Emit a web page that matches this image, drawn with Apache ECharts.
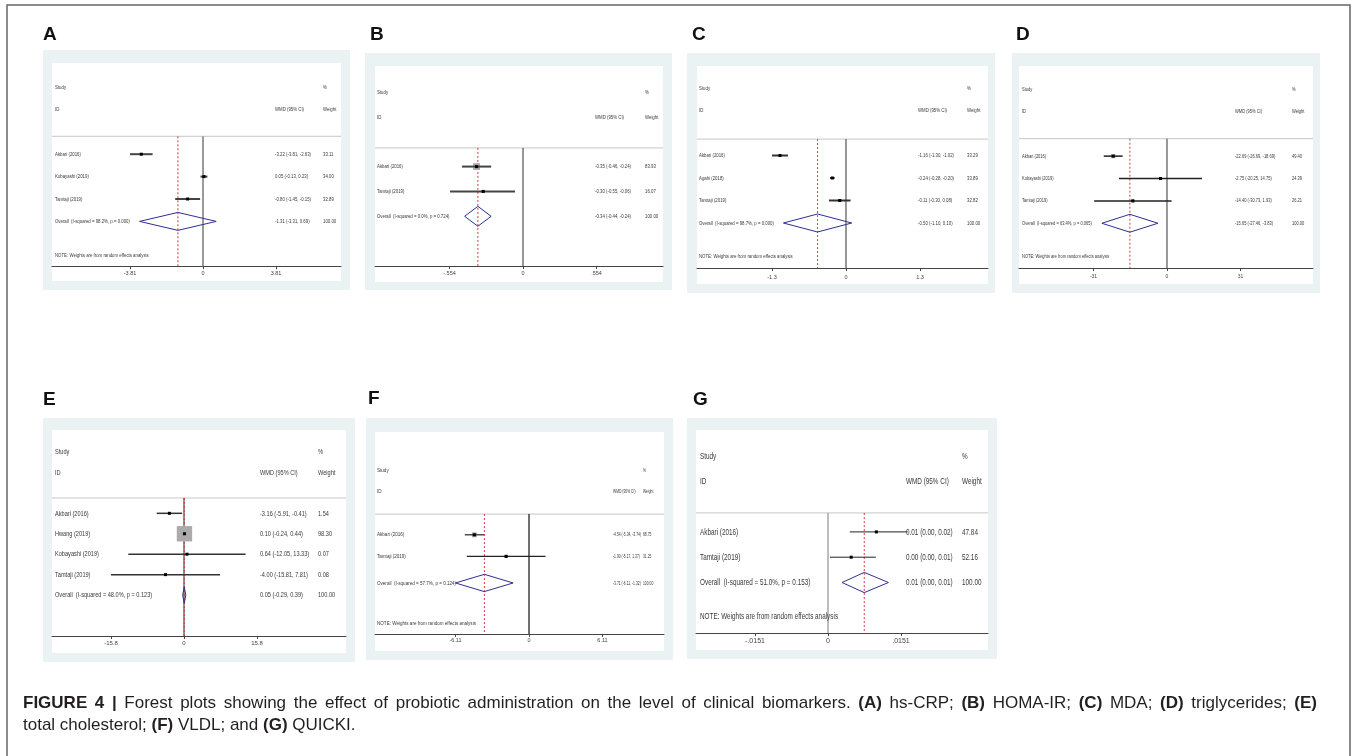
<!DOCTYPE html>
<html>
<head>
<meta charset="utf-8">
<script src="https://cdn.jsdelivr.net/npm/echarts@6/dist/echarts.min.js"></script>
<style>
html, body { margin: 0; padding: 0; background: #fff; }
#main { width: 1357px; height: 756px; }
</style>
</head>
<body>
<div id="main"></div>
<script>
// A: hs-CRP
var studyA = ['Akbari (2016)', 'Kobayashi (2019)', 'Tamtaji (2019)'];
var wmdA = [-3.22, 0.05, -0.80];
var lowA = [-3.81, -0.13, -1.45];
var highA = [-2.63, 0.23, -0.15];
var weightA = [33.11, 34.00, 32.89];
var overallA = [-1.31, -3.31, 0.69]; // wmd, low, high
var hetA = [98.2, 0.000];            // I-squared, p
var ticksA = [-3.81, 0, 3.81];
var tickLabelsA = ['-3.81', '0', '3.81'];

// B: HOMA-IR
var studyB = ['Akbari (2016)', 'Tamtaji (2019)'];
var wmdB = [-0.35, -0.30];
var lowB = [-0.46, -0.55];
var highB = [-0.24, -0.06];
var weightB = [83.93, 16.07];
var overallB = [-0.34, -0.44, -0.24];
var hetB = [0.0, 0.724];
var ticksB = [-0.554, 0, 0.554];
var tickLabelsB = ['-.554', '0', '.554'];

// C: MDA
var studyC = ['Akbari (2016)', 'Agahi (2018)', 'Tamtaji (2019)'];
var wmdC = [-1.16, -0.24, -0.11];
var lowC = [-1.30, -0.28, -0.30];
var highC = [-1.02, -0.20, 0.08];
var weightC = [33.29, 33.89, 32.82];
var overallC = [-0.50, -1.10, 0.10];
var hetC = [98.7, 0.000];
var ticksC = [-1.3, 0, 1.3];
var tickLabelsC = ['-1.3', '0', '1.3'];

// D: triglycerides
var studyD = ['Akbari (2016)', 'Kobayashi (2019)', 'Tamtaji (2019)'];
var wmdD = [-22.69, -2.75, -14.40];
var lowD = [-26.69, -20.25, -30.73];
var highD = [-18.69, 14.75, 1.93];
var weightD = [49.40, 24.39, 26.21];
var overallD = [-15.65, -27.46, -3.83];
var hetD = [63.4, 0.065];
var ticksD = [-31, 0, 31];
var tickLabelsD = ['-31', '0', '31'];

// E: total cholesterol
var studyE = ['Akbari (2016)', 'Hwang (2019)', 'Kobayashi (2019)', 'Tamtaji (2019)'];
var wmdE = [-3.16, 0.10, 0.64, -4.00];
var lowE = [-5.91, -0.24, -12.05, -15.81];
var highE = [-0.41, 0.44, 13.33, 7.81];
var weightE = [1.54, 98.30, 0.07, 0.08];
var overallE = [0.05, -0.29, 0.39];
var hetE = [48.0, 0.123];
var ticksE = [-15.8, 0, 15.8];
var tickLabelsE = ['-15.8', '0', '15.8'];

// F: VLDL
var studyF = ['Akbari (2016)', 'Tamtaji (2019)'];
var wmdF = [-4.54, -1.90];
var lowF = [-5.34, -5.17];
var highF = [-3.74, 1.37];
var weightF = [68.75, 31.25];
var overallF = [-3.71, -6.11, -1.32];
var hetF = [57.7, 0.124];
var ticksF = [-6.11, 0, 6.11];
var tickLabelsF = ['-6.11', '0', '6.11'];

// G: QUICKI
var studyG = ['Akbari (2016)', 'Tamtaji (2019)'];
var wmdG = [0.0100, 0.0048];
var lowG = [0.0045, 0.0004];
var highG = [0.0165, 0.0099];
var weightG = [47.84, 52.16];
var overallG = [0.0075, 0.0029, 0.0125];
var hetG = [51.0, 0.153];
var ticksG = [-0.0151, 0, 0.0151];
var tickLabelsG = ['-.0151', '0', '.0151'];

// caption words (first line is justified)
var captionLine1 = ['FIGURE', '4', '|', 'Forest', 'plots', 'showing', 'the', 'effect', 'of', 'probiotic', 'administration',
  'on', 'the', 'level', 'of', 'clinical', 'biomarkers.', '(A)', 'hs-CRP;', '(B)', 'HOMA-IR;', '(C)', 'MDA;', '(D)', 'triglycerides;', '(E)'];
var captionLine2 = '{n|total cholesterol; }{b|(F)}{n| VLDL; and }{b|(G)}{n| QUICKI.}';

var FONT = '"Liberation Sans", Arial, sans-serif';

// layout of each panel (pixels / styles)
var panels = [
  { id: 'A', study: studyA, wmd: wmdA, low: lowA, high: highA, weight: weightA, overall: overallA, het: hetA, ticks: ticksA, tickLabels: tickLabelsA,
    letter: [43, 35], box: [43, 50, 307, 240], plot: [52, 63, 289, 218],
    studyY: 87, rowH: 22.4, sepRow: 2.2, overallRow: 6, noteRow: 7.5, axisRow: 8,
    xMin: -7.881, xMax: 7.203, font: 6, sx: 0.72, midSx: 0.72, tickFont: 5.5, labelMargin: 4,
    pad: 3, midOff: 66, wOff: 18, ciW: 2, ciColor: '#444', boxScale: 0.3, zeroColor: '#9a9a9a', zeroW: 2 },
  { id: 'B', study: studyB, wmd: wmdB, low: lowB, high: highB, weight: weightB, overall: overallB, het: hetB, ticks: ticksB, tickLabels: tickLabelsB,
    letter: [370, 35], box: [365, 53, 307, 237], plot: [375, 66, 288, 216],
    studyY: 92, rowH: 24.86, sepRow: 2.25, overallRow: 5, noteRow: null, axisRow: 7,
    xMin: -1.1153, xMax: 1.0550, font: 6, sx: 0.72, midSx: 0.72, tickFont: 5.5, labelMargin: 4,
    pad: 2, midOff: 68, wOff: 18, ciW: 2, ciColor: '#444', boxScale: 0.75, zeroColor: '#333', zeroW: 1 },
  { id: 'C', study: studyC, wmd: wmdC, low: lowC, high: highC, weight: weightC, overall: overallC, het: hetC, ticks: ticksC, tickLabels: tickLabelsC,
    letter: [692, 35], box: [687, 53, 308, 240], plot: [697, 66, 291, 218],
    studyY: 88, rowH: 22.5, sepRow: 2.27, overallRow: 6, noteRow: 7.5, axisRow: 8,
    xMin: -2.6186, xMax: 2.4956, font: 6, sx: 0.72, midSx: 0.72, tickFont: 5.5, labelMargin: 6,
    pad: 2, midOff: 70, wOff: 21, ciW: 2, ciColor: '#333', boxScale: 0.3, zeroColor: '#333', zeroW: 1 },
  { id: 'D', study: studyD, wmd: wmdD, low: lowD, high: highD, weight: weightD, overall: overallD, het: hetD, ticks: ticksD, tickLabels: tickLabelsD,
    letter: [1016, 35], box: [1012, 53, 308, 240], plot: [1019, 66, 294, 218],
    studyY: 89, rowH: 22.375, sepRow: 2.22, overallRow: 6, noteRow: 7.5, axisRow: 8,
    xMin: -62.42, xMax: 61.58, font: 5.6, sx: 0.72, midSx: 0.72, tickFont: 5, labelMargin: 6,
    pad: 3, midOff: 78, wOff: 21, ciW: 1.5, ciColor: '#222', boxScale: 0.6, zeroColor: '#333', zeroW: 1 },
  { id: 'E', study: studyE, wmd: wmdE, low: lowE, high: highE, weight: weightE, overall: overallE, het: hetE, ticks: ticksE, tickLabels: tickLabelsE,
    letter: [43, 400], box: [43, 418, 312, 244], plot: [52, 430, 294, 223],
    studyY: 452, rowH: 20.44, sepRow: 2.25, overallRow: 7, noteRow: null, axisRow: 9,
    xMin: -28.57, xMax: 35.06, font: 8, sx: 0.7, midSx: 0.7, tickFont: 6, labelMargin: 4,
    pad: 3, midOff: 86, wOff: 28, ciW: 1.5, ciColor: '#333', boxScale: 1.55, zeroColor: '#222', zeroW: 1 },
  { id: 'F', study: studyF, wmd: wmdF, low: lowF, high: highF, weight: weightF, overall: overallF, het: hetF, ticks: ticksF, tickLabels: tickLabelsF,
    letter: [368, 399], box: [366, 418, 307, 242], plot: [375, 432, 289, 219],
    studyY: 470, rowH: 21.6, sepRow: 2.04, overallRow: 5.23, noteRow: 7.08, axisRow: 7.59,
    xMin: -12.80, xMax: 11.22, font: 6, sx: 0.76, midSx: 0.56, tickFont: 5.5, labelMargin: 4,
    pad: 2, midOff: 51, wOff: 21, ciW: 1.2, ciColor: '#222', boxScale: 0.6, zeroColor: '#222', zeroW: 1.3 },
  { id: 'G', study: studyG, wmd: wmdG, low: lowG, high: highG, weight: weightG, overall: overallG, het: hetG, ticks: ticksG, tickLabels: tickLabelsG,
    letter: [693, 400], box: [687, 418, 310, 241], plot: [696, 430, 292, 220],
    studyY: 456, rowH: 25.3, sepRow: 2.25, overallRow: 5, noteRow: 6.32, axisRow: 7,
    xMin: -0.027306, xMax: 0.033099, font: 9.5, sx: 0.67, midSx: 0.67, tickFont: 7, labelMargin: 4,
    pad: 4, midOff: 82, wOff: 26, ciW: 1, ciColor: '#222', boxScale: 0.3, zeroColor: '#a8a8a8', zeroW: 1.5 }
];

function fmt(v) { return v.toFixed(2); }
function ciText(e, l, h) { return fmt(e) + ' (' + fmt(l) + ', ' + fmt(h) + ')'; }

function textRows(p) {
  var rows = [
    { row: 0, col: 'L', text: 'Study' }, { row: 0, col: 'W', text: '%' },
    { row: 1, col: 'L', text: 'ID' }, { row: 1, col: 'M', text: 'WMD (95% CI)' }, { row: 1, col: 'W', text: 'Weight' }
  ];
  for (var i = 0; i < p.study.length; i++) {
    rows.push({ row: 3 + i, col: 'L', text: p.study[i] });
    rows.push({ row: 3 + i, col: 'M', text: ciText(p.wmd[i], p.low[i], p.high[i]) });
    rows.push({ row: 3 + i, col: 'W', text: fmt(p.weight[i]) });
  }
  rows.push({ row: p.overallRow, col: 'L', text: 'Overall  (I-squared = ' + p.het[0].toFixed(1) + '%, p = ' + p.het[1].toFixed(3) + ')' });
  rows.push({ row: p.overallRow, col: 'M', text: ciText(p.overall[0], p.overall[1], p.overall[2]) });
  rows.push({ row: p.overallRow, col: 'W', text: '100.00' });
  if (p.noteRow != null) rows.push({ row: p.noteRow, col: 'L', text: 'NOTE: Weights are from random effects analysis' });
  return rows;
}

var grids = [], xAxes = [], yAxes = [], series = [];
var graphics = [
  { type: 'rect', shape: { x: 7, y: 5, width: 1343, height: 790 }, style: { fill: 'none', stroke: '#666', lineWidth: 1.5 }, z: 0 }
];

panels.forEach(function (p, k) {
  graphics.push({ type: 'rect', shape: { x: p.box[0], y: p.box[1], width: p.box[2], height: p.box[3] }, style: { fill: '#eaf2f3' }, z: 0 });
  graphics.push({ type: 'rect', shape: { x: p.plot[0], y: p.plot[1], width: p.plot[2], height: p.plot[3] }, style: { fill: '#ffffff' }, z: 0 });
  graphics.push({ type: 'text', x: p.letter[0], y: p.letter[1], z: 1,
    style: { text: p.id, fontSize: 19, fontWeight: 'bold', fontFamily: FONT, fill: '#111', verticalAlign: 'middle' } });

  grids.push({ left: p.plot[0], width: p.plot[2], top: p.studyY - p.rowH, height: (p.axisRow + 1) * p.rowH });

  xAxes.push({
    type: 'value', gridIndex: k, min: p.xMin, max: p.xMax,
    axisLine: { show: true, onZero: false, lineStyle: { color: '#444', width: 1 } },
    axisTick: { show: true, customValues: p.ticks, length: 3, lineStyle: { color: '#444' } },
    axisLabel: {
      customValues: p.ticks, fontSize: p.tickFont, fontFamily: FONT, color: '#444', margin: p.labelMargin,
      formatter: function (v) {
        for (var i = 0; i < p.ticks.length; i++) if (Math.abs(v - p.ticks[i]) < 1e-9) return p.tickLabels[i];
        return '';
      }
    },
    splitLine: { show: false }
  });
  yAxes.push({ type: 'value', gridIndex: k, min: -1, max: p.axisRow, inverse: true, show: false });

  // separator, line of no effect, overall dashed line
  series.push({
    type: 'custom', xAxisIndex: k, yAxisIndex: k, silent: true, z: 3,
    data: [[p.overall[0], p.sepRow]],
    renderItem: function (params, api) {
      var cs = params.coordSys;
      var z0 = api.coord([0, p.sepRow]), z1 = api.coord([0, p.axisRow]);
      var d0 = api.coord([api.value(0), p.sepRow]), d1 = api.coord([api.value(0), p.axisRow]);
      return { type: 'group', children: [
        { type: 'line', shape: { x1: cs.x, y1: z0[1], x2: cs.x + cs.width, y2: z0[1] }, style: { stroke: '#c6c6c6', lineWidth: 1 } },
        { type: 'line', shape: { x1: z0[0], y1: z0[1], x2: z1[0], y2: z1[1] }, style: { stroke: p.zeroColor, lineWidth: p.zeroW } },
        { type: 'line', shape: { x1: d0[0], y1: d0[1], x2: d1[0], y2: d1[1] }, style: { stroke: '#d9383a', lineWidth: 1, lineDash: [2, 2] } }
      ] };
    }
  });

  // studies: weight box, CI line, point estimate
  series.push({
    type: 'custom', xAxisIndex: k, yAxisIndex: k, silent: true, z: 4,
    encode: { x: 0, y: 3 },
    data: p.wmd.map(function (v, i) { return [v, p.low[i], p.high[i], 3 + i, p.weight[i]]; }),
    renderItem: function (params, api) {
      var y = api.value(3);
      var c = api.coord([api.value(0), y]);
      var a = api.coord([api.value(1), y]);
      var b = api.coord([api.value(2), y]);
      var s = p.boxScale * Math.sqrt(api.value(4));
      return { type: 'group', children: [
        { type: 'rect', shape: { x: c[0] - s / 2, y: c[1] - s / 2, width: s, height: s }, style: { fill: '#ababab' } },
        { type: 'line', shape: { x1: a[0], y1: a[1], x2: b[0], y2: b[1] }, style: { stroke: p.ciColor, lineWidth: p.ciW } },
        { type: 'rect', shape: { x: c[0] - 1.5, y: c[1] - 1.5, width: 3, height: 3 }, style: { fill: '#000' } }
      ] };
    }
  });

  // pooled diamond
  series.push({
    type: 'custom', xAxisIndex: k, yAxisIndex: k, silent: true, z: 5,
    encode: { x: 0, y: 3 },
    data: [[p.overall[0], p.overall[1], p.overall[2], p.overallRow]],
    renderItem: function (params, api) {
      var y = api.value(3);
      var c = api.coord([api.value(0), y]);
      var a = api.coord([api.value(1), y]);
      var b = api.coord([api.value(2), y]);
      var h = p.rowH * 0.4;
      return { type: 'polygon', shape: { points: [[a[0], c[1]], [c[0], c[1] - h], [b[0], c[1]], [c[0], c[1] + h]] },
        style: { fill: 'none', stroke: '#2e2e91', lineWidth: 1 } };
    }
  });

  // text columns
  var rows = textRows(p);
  series.push({
    type: 'custom', xAxisIndex: k, yAxisIndex: k, silent: true, z: 6,
    encode: { x: 0, y: 1 },
    data: rows.map(function (r) { return [0, r.row]; }),
    renderItem: function (params, api) {
      var r = rows[params.dataIndex];
      var cs = params.coordSys;
      var y = api.coord([0, api.value(1)])[1];
      var x = r.col === 'L' ? cs.x + p.pad : (r.col === 'M' ? cs.x + cs.width - p.midOff : cs.x + cs.width - p.wOff);
      return { type: 'text', x: x, y: y, scaleX: r.col === 'L' ? p.sx : p.midSx,
        style: { text: r.text, fontSize: p.font, fontFamily: FONT, fill: '#383838', align: 'left', verticalAlign: 'middle' } };
    }
  });
});

// caption: first line justified between x0 and x1
var capSize = 17, capX0 = 23, capX1 = 1317;
var capN = { fontSize: capSize, fontFamily: FONT, fill: '#231f20' };
var capB = { fontSize: capSize, fontFamily: FONT, fill: '#231f20', fontWeight: 'bold' };
var ctx = document.createElement('canvas').getContext('2d');
function isBold(w) { return /^(FIGURE|4|\||\([A-G]\))$/.test(w); }
var widths = captionLine1.map(function (w) {
  ctx.font = (isBold(w) ? 'bold ' : '') + capSize + 'px ' + FONT;
  return ctx.measureText(w).width;
});
var sumW = widths.reduce(function (s, v) { return s + v; }, 0);
var gap = (capX1 - capX0 - sumW) / (captionLine1.length - 1);
var cx = capX0;
captionLine1.forEach(function (w, i) {
  graphics.push({ type: 'text', x: cx, y: 703, z: 1,
    style: Object.assign({ text: w, verticalAlign: 'middle' }, isBold(w) ? capB : capN) });
  cx += widths[i] + gap;
});
graphics.push({ type: 'text', x: capX0, y: 725, z: 1,
  style: { text: captionLine2, rich: { n: capN, b: capB }, verticalAlign: 'middle' } });

var myChart = echarts.init(document.getElementById('main'));
myChart.setOption({
  animation: false,
  backgroundColor: '#ffffff',
  graphic: { elements: graphics },
  grid: grids,
  xAxis: xAxes,
  yAxis: yAxes,
  series: series
});
</script>
</body>
</html>
